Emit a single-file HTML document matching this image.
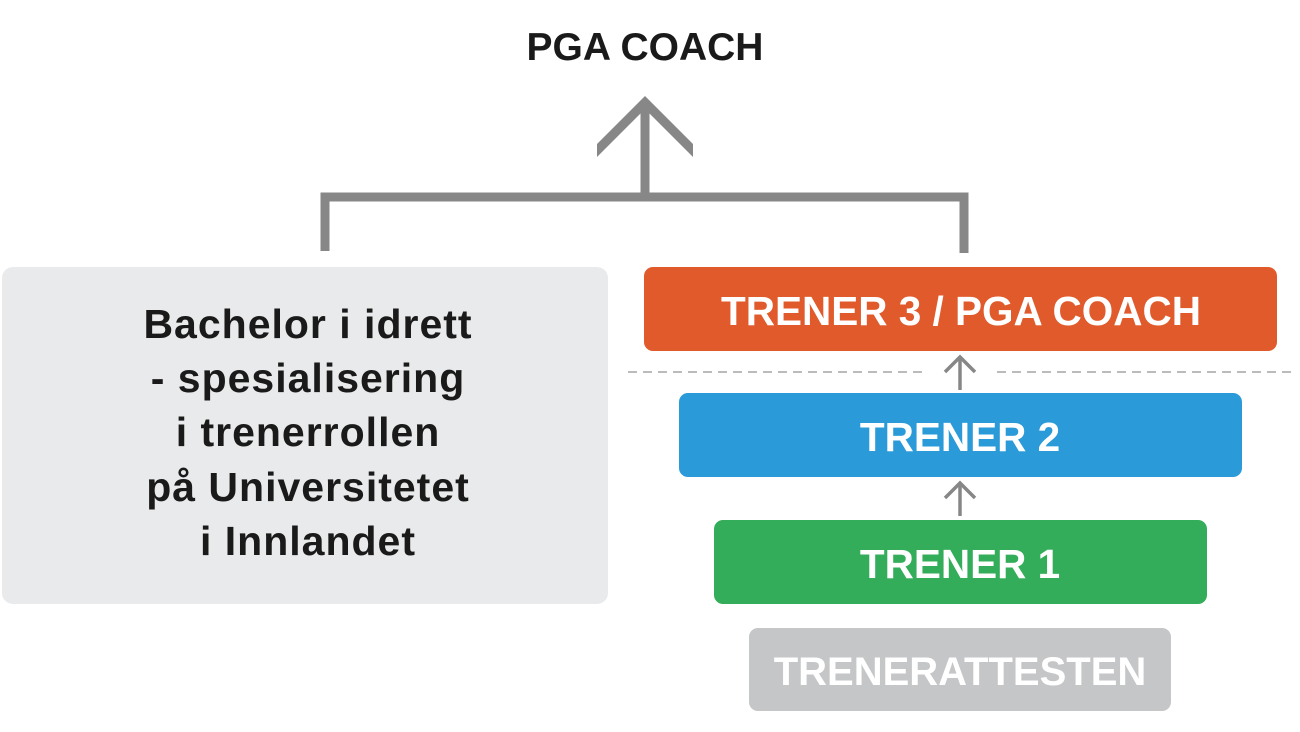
<!DOCTYPE html>
<html><head><meta charset="utf-8"><style>
html,body{margin:0;padding:0;background:#fff;width:1300px;height:732px;overflow:hidden}
svg text{font-family:"Liberation Sans","DejaVu Sans",sans-serif;font-weight:bold}
</style></head><body>
<svg width="1300" height="732" viewBox="0 0 1300 732" xmlns="http://www.w3.org/2000/svg">
<text x="645" y="60" text-anchor="middle" font-size="39" fill="#1a1a1a">PGA COACH</text>
<g fill="none" stroke="#878787" stroke-width="9">
<line x1="645" y1="102" x2="645" y2="197"/>
<polyline points="325,251 325,197 964,197 964,253"/>
</g>
<polygon points="645,96 693,144 693,157 645,109 597,157 597,144" fill="#878787"/>
<rect x="2" y="267" width="606" height="337" rx="11" fill="#e9eaeb"/>
<g font-size="41" fill="#1a1a1a" text-anchor="middle" letter-spacing="1">
<text x="308" y="338">Bachelor i idrett</text>
<text x="308" y="392">- spesialisering</text>
<text x="308" y="446">i trenerrollen</text>
<text x="308" y="501">på Universitetet</text>
<text x="308" y="555">i Innlandet</text>
</g>
<rect x="644" y="267" width="633" height="84" rx="9" fill="#e05a2b"/>
<text x="961" y="325" text-anchor="middle" font-size="40.5" fill="#fff">TRENER 3 / PGA COACH</text>
<g stroke="#bbbbbb" stroke-width="2" stroke-dasharray="9,6">
<line x1="628" y1="372" x2="925" y2="372"/>
<line x1="997" y1="372" x2="1292" y2="372"/>
</g>
<rect x="679" y="393" width="563" height="84" rx="9" fill="#2a9ad8"/>
<text x="960" y="451" text-anchor="middle" font-size="40.5" fill="#fff">TRENER 2</text>
<rect x="714" y="520" width="493" height="84" rx="9" fill="#33ad59"/>
<text x="960" y="578" text-anchor="middle" font-size="40.5" fill="#fff">TRENER 1</text>
<rect x="749" y="628" width="422" height="83" rx="9" fill="#c4c6c8"/>
<text x="960" y="685" text-anchor="middle" font-size="40" fill="#fff">TRENERATTESTEN</text>
<g fill="none" stroke="#878787" stroke-width="3.5">
<line x1="960" y1="357" x2="960" y2="390"/>
<polyline points="945,372 960,357 975,372"/>
<line x1="960" y1="483" x2="960" y2="516"/>
<polyline points="945,498 960,483 975,498"/>
</g>
</svg>
</body></html>
